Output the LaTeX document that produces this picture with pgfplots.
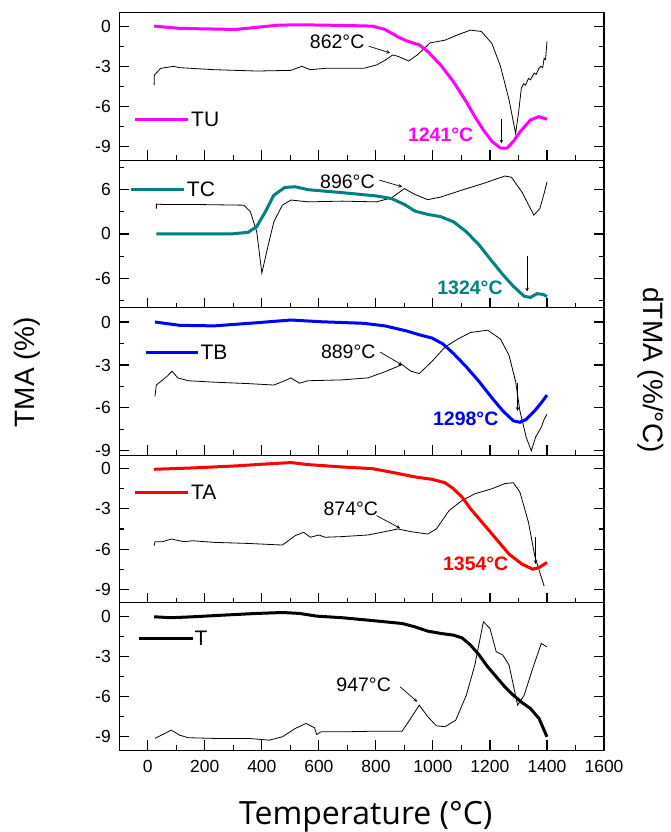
\documentclass[border=0pt]{standalone}
\usepackage{pgfplots}
\pgfplotsset{compat=1.18}
\usepackage{fontspec}
\setmainfont{Liberation Sans}
\newfontfamily\opensans{Open Sans}
\definecolor{cTU}{RGB}{255,0,255}
\definecolor{cTC}{RGB}{0,128,128}
\definecolor{cTB}{RGB}{0,0,255}
\definecolor{cTA}{RGB}{255,0,0}
\pgfplotsset{
  panel/.style={
    scale only axis, width=484.7pt, height=147.5pt,
    xmin=-100, xmax=1600,
    xtick={0,200,...,1600}, minor xtick={100,300,...,1500},
    xtick pos=left, ytick pos=both, tick align=inside,
    major tick length=10pt, minor tick length=5pt,
    axis line style={line width=1.3pt},
    tick style={black, line width=1.1pt},
    /pgf/number format/assume math mode=true,
    ticklabel style={font=\fontsize{17.5}{20}\selectfont},
    yticklabel style={xshift=-5pt},
    xticklabel style={yshift=-7pt},
    anchor=north west, clip=false,
    xticklabels={},
  },
}
\tikzset{
  ann/.style={font=\fontsize{19.5}{21}\selectfont},
  bann/.style={font=\bfseries\fontsize{19.5}{21}\selectfont},
  leg/.style={font=\fontsize{21}{23}\selectfont, anchor=west, inner sep=1pt},
  dthin/.style={black, line width=0.8pt},
  thickc/.style={line width=3pt},
  arr/.style={-stealth, black, line width=0.7pt},
}
\begin{document}
\begin{tikzpicture}
\useasboundingbox (-119.3pt,12.7pt) rectangle (551.7pt,-819.3pt);
% ---------- Panel 1: TU
\begin{axis}[panel, at={(0pt,0pt)}, ymin=-10, ymax=1,
  ytick={-9,-6,-3,0}, minor ytick={-7.5,-4.5,-1.5}]
\addplot[dthin] coordinates {(22,-4.4) (23,-3.65) (45,-3.15) (90,-3.0) (112,-3.1) (232,-3.25) (382,-3.35) (502,-3.3) (540,-3.0) (570,-3.25) (622,-3.15) (757,-3.15) (802,-2.9) (832,-2.55) (859,-2.15) (877,-2.25) (915,-2.6) (945,-2.15) (990,-1.25) (1042,-1.05) (1087,-0.65) (1132,-0.3) (1170,-0.4) (1207,-1.3) (1237,-3.0) (1267,-5.5) (1290,-8.0) (1300,-6.5) (1310,-4.65) (1318,-4.3) (1325,-4.4) (1335,-3.9) (1342,-4.0) (1355,-3.5) (1362,-3.6) (1372,-3.15) (1378,-3.0) (1385,-3.1) (1390,-2.4) (1395,-2.5) (1400,-1.15)};
\addplot[thickc, cTU] coordinates {(22,0) (112,-0.17) (307,-0.25) (457,0.07) (532,0.1) (682,0.05) (787,0) (832,-0.25) (877,-0.8) (907,-1.1) (952,-1.4) (982,-1.9) (1027,-2.9) (1072,-4.15) (1117,-5.65) (1147,-6.75) (1177,-7.75) (1207,-8.6) (1237,-9.1) (1260,-9.1) (1282,-8.6) (1305,-7.9) (1342,-7.0) (1372,-6.75) (1400,-6.95)};
\node[ann] at (axis cs:664,-1.17) {862°C};
\draw[arr] (axis cs:775,-1.5) -- (axis cs:850,-2.0);
\node[bann, text=cTU] at (axis cs:1027,-8.1) {1241°C};
\draw[arr] (axis cs:1240,-6.9) -- (axis cs:1240,-8.75);
\draw[cTU, line width=3pt] (axis cs:-45,-6.94) -- (axis cs:142,-6.94);
\node[leg] at (axis cs:148,-6.94) {TU};
\end{axis}
% ---------- Panel 2: TC
\begin{axis}[panel, at={(0pt,-147.5pt)}, ymin=-10, ymax=10,
  ytick={-6,0,6}, minor ytick={-9,-3,3,9}]
\addplot[dthin] coordinates {(30,3.45) (30,4.05) (52,4.0) (157,4.0) (337,3.9) (360,3.0) (382,0.3) (400,-5.3) (420,-1.9) (442,1.65) (472,3.9) (502,4.6) (562,4.35) (682,4.45) (802,4.35) (855,4.9) (900,6.15) (937,5.35) (982,4.65) (1027,5.0) (1102,5.95) (1177,6.85) (1252,7.85) (1275,7.7) (1312,5.7) (1354,2.55) (1375,3.45) (1390,5.5) (1400,7.05)};
\addplot[thickc, cTC] coordinates {(30,0) (292,0) (352,0.22) (382,1.0) (412,3.0) (442,5.25) (480,6.3) (517,6.4) (562,6.0) (682,5.6) (802,5.15) (855,4.8) (900,4.0) (937,3.1) (982,2.65) (1027,2.35) (1072,1.65) (1117,0.3) (1162,-1.5) (1207,-3.7) (1245,-5.5) (1282,-7.1) (1320,-8.45) (1342,-8.6) (1365,-8.1) (1387,-8.2) (1400,-8.5)};
\node[ann] at (axis cs:700,7.05) {896°C};
\draw[arr] (axis cs:812,7.3) -- (axis cs:892,6.4);
\node[bann, text=cTC] at (axis cs:1130,-7.3) {1324°C};
\draw[arr] (axis cs:1330,-3.05) -- (axis cs:1330,-7.8);
\draw[cTC, line width=3pt] (axis cs:-60,6) -- (axis cs:127,6);
\node[leg] at (axis cs:133,6) {TC};
\end{axis}
% ---------- Panel 3: TB
\begin{axis}[panel, at={(0pt,-295pt)}, ymin=-9.3, ymax=1,
  ytick={-9,-6,-3,0}, minor ytick={-7.5,-4.5,-1.5}]
\addplot[dthin] coordinates {(25,-5.2) (30,-4.4) (67,-3.8) (85,-3.43) (105,-3.9) (142,-4.1) (232,-4.2) (352,-4.3) (442,-4.4) (480,-4.1) (502,-3.9) (532,-4.27) (562,-4.1) (682,-4.04) (772,-3.9) (832,-3.47) (892,-2.97) (922,-3.43) (952,-3.6) (997,-2.74) (1042,-1.76) (1087,-1.19) (1132,-0.73) (1192,-0.57) (1237,-1.19) (1267,-2.33) (1290,-4.16) (1305,-6.2) (1327,-8.04) (1345,-9.0) (1360,-8.04) (1380,-7.35) (1390,-6.8) (1400,-6.44)};
\addplot[thickc, cTB] coordinates {(25,0) (112,-0.23) (232,-0.27) (382,-0.05) (502,0.14) (607,0.02) (757,-0.09) (832,-0.27) (907,-0.62) (952,-0.89) (997,-1.12) (1035,-1.53) (1072,-2.2) (1117,-3.13) (1162,-4.16) (1207,-5.3) (1245,-6.2) (1282,-6.9) (1305,-7.0) (1327,-6.8) (1357,-6.2) (1380,-5.64) (1400,-5.1)};
\node[ann] at (axis cs:703,-2.1) {889°C};
\draw[arr] (axis cs:815,-2.1) -- (axis cs:892,-3.0);
\node[bann, text=cTB] at (axis cs:1115,-6.78) {1298°C};
\draw[arr] (axis cs:1297,-4.27) -- (axis cs:1297,-6.2);
\draw[cTB, line width=3pt] (axis cs:-7,-2.1) -- (axis cs:175,-2.1);
\node[leg] at (axis cs:181,-2.1) {TB};
\end{axis}
% ---------- Panel 4: TA
\begin{axis}[panel, at={(0pt,-442.5pt)}, ymin=-10, ymax=1,
  ytick={-9,-6,-3,0}, minor ytick={-7.5,-4.5,-1.5}]
\addplot[dthin] coordinates {(22,-5.75) (25,-5.45) (52,-5.45) (82,-5.25) (127,-5.45) (157,-5.38) (232,-5.5) (352,-5.58) (472,-5.7) (517,-5.0) (547,-4.75) (570,-5.12) (600,-4.95) (622,-5.12) (682,-5.07) (772,-4.95) (832,-4.7) (877,-4.5) (922,-4.7) (982,-4.88) (1012,-4.5) (1057,-3.12) (1102,-2.38) (1147,-1.88) (1207,-1.5) (1252,-1.12) (1282,-1.05) (1305,-1.75) (1335,-4.0) (1357,-6.5) (1375,-7.75) (1390,-8.75)};
\addplot[thickc, cTA] coordinates {(22,-0.05) (157,0.05) (307,0.2) (442,0.38) (502,0.45) (562,0.3) (682,0.12) (787,0) (862,-0.3) (937,-0.62) (997,-0.8) (1042,-1.05) (1072,-1.5) (1102,-2.12) (1132,-3.0) (1177,-4.12) (1222,-5.25) (1267,-6.38) (1312,-7.12) (1350,-7.5) (1372,-7.38) (1400,-7.0)};
\node[ann] at (axis cs:712,-3.0) {874°C};
\draw[arr] (axis cs:802,-3.5) -- (axis cs:885,-4.45);
\node[bann, text=cTA] at (axis cs:1150,-7.12) {1354°C};
\draw[arr] (axis cs:1360,-5.12) -- (axis cs:1360,-7.12);
\draw[cTA, line width=3pt] (axis cs:-45,-1.75) -- (axis cs:142,-1.75);
\node[leg] at (axis cs:148,-1.75) {TA};
\end{axis}
% ---------- Panel 5: T
\begin{axis}[panel, at={(0pt,-590pt)}, ymin=-10, ymax=1,
  ytick={-9,-6,-3,0}, minor ytick={-7.5,-4.5,-1.5},
  xticklabels={0,200,400,600,800,1000,1200,1400,1600}]
\addplot[dthin] coordinates {(25,-9.12) (52,-8.83) (82,-8.5) (112,-8.88) (142,-9.07) (232,-9.12) (352,-9.12) (427,-9.25) (472,-9.0) (517,-8.38) (555,-8.0) (585,-8.33) (592,-8.83) (607,-8.63) (682,-8.63) (802,-8.58) (892,-8.58) (922,-7.63) (952,-6.64) (982,-7.5) (1012,-8.18) (1042,-8.25) (1080,-7.76) (1117,-5.9) (1147,-3.65) (1177,-0.42) (1200,-0.92) (1222,-2.66) (1245,-2.9) (1267,-3.65) (1297,-6.64) (1320,-5.9) (1350,-3.9) (1380,-2.04) (1400,-2.29)};
\addplot[thickc, black] coordinates {(22,-0.05) (82,-0.12) (157,-0.05) (262,0.07) (382,0.2) (472,0.27) (532,0.2) (592,0) (682,-0.12) (772,-0.3) (892,-0.55) (937,-0.8) (982,-1.12) (1027,-1.29) (1072,-1.42) (1102,-1.62) (1132,-2.16) (1162,-2.9) (1192,-3.78) (1222,-4.52) (1252,-5.27) (1282,-5.9) (1312,-6.44) (1342,-6.89) (1372,-7.63) (1400,-9.0)};
\node[ann] at (axis cs:757,-5.15) {947°C};
\draw[arr] (axis cs:885,-5.27) -- (axis cs:945,-6.39);
\draw[black, line width=3pt] (axis cs:-30,-1.67) -- (axis cs:157,-1.67);
\node[leg] at (axis cs:160,-1.67) {T};
\end{axis}
% ---------- axis titles
\node[font=\opensans\fontsize{32}{34}\selectfont, anchor=base] at (246.5pt,-811.6pt) {Temperature (°C)};
\node[font=\fontsize{28}{30}\selectfont, rotate=90, anchor=base] at (-84.3pt,-359.3pt) {TMA (\%)};
\node[font=\fontsize{28}{30}\selectfont, rotate=-90, anchor=base] at (523.7pt,-357.3pt) {dTMA (\%/°C)};
\end{tikzpicture}
\end{document}
